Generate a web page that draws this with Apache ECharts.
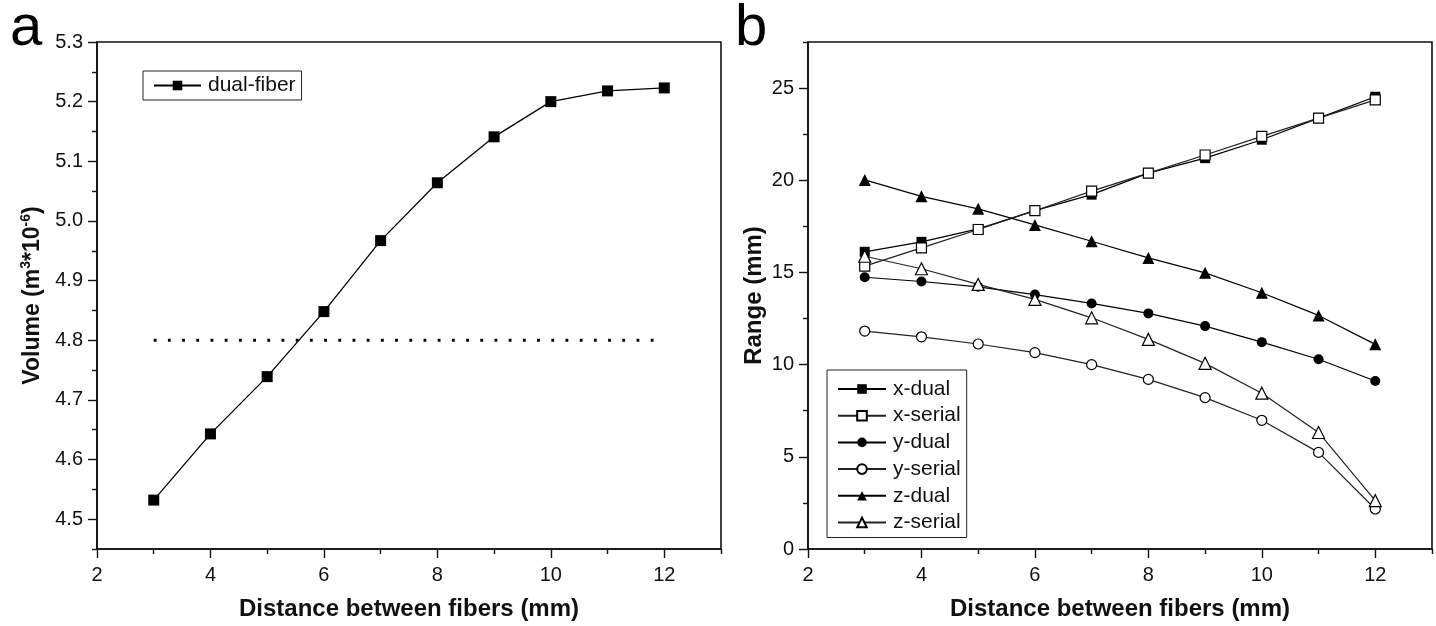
<!DOCTYPE html>
<html>
<head>
<meta charset="utf-8">
<script src="https://cdn.jsdelivr.net/npm/echarts@6/dist/echarts.min.js"></script>
<style>
html,body{margin:0;padding:0;background:#fff;}
#chart{width:1436px;height:626px;}
</style>
</head>
<body>
<div id="chart"></div>
<script>
// ---------- data ----------
var distances = [3, 4, 5, 6, 7, 8, 9, 10, 11, 12];

// panel a
var volumeDual = [4.532, 4.643, 4.739, 4.848, 4.967, 5.064, 5.141, 5.200, 5.218, 5.223];
var volumeThreshold = 4.8;
var thresholdFrom = 3, thresholdTo = 12;

// panel b
var xDual   = [16.12, 16.66, 17.36, 18.35, 19.22, 20.39, 21.20, 22.20, 23.37, 24.53];
var xSerial = [15.34, 16.33, 17.33, 18.35, 19.41, 20.39, 21.37, 22.38, 23.37, 24.36];
var yDual   = [14.74, 14.51, 14.22, 13.80, 13.32, 12.78, 12.09, 11.22, 10.29, 9.11];
var ySerial = [11.82, 11.51, 11.12, 10.65, 10.00, 9.20, 8.21, 6.98, 5.24, 2.17];
var zDual   = [20.02, 19.13, 18.45, 17.58, 16.69, 15.79, 14.98, 13.90, 12.67, 11.10];
var zSerial = [15.88, 15.20, 14.35, 13.54, 12.54, 11.37, 10.07, 8.45, 6.32, 2.62];

// tick labels / tick positions
var xMajorTicks = [2, 4, 6, 8, 10, 12];
var xMinorTicks = [3, 5, 7, 9, 11, 13];
var volMajorTicks = [4.5, 4.6, 4.7, 4.8, 4.9, 5.0, 5.1, 5.2, 5.3];
var volMinorTicks = [4.45, 4.55, 4.65, 4.75, 4.85, 4.95, 5.05, 5.15, 5.25];
var rangeMajorTicks = [0, 5, 10, 15, 20, 25];
var rangeMinorTicks = [2.5, 7.5, 12.5, 17.5, 22.5, 27.5];

var xTitle = 'Distance between fibers (mm)';
var rangeTitle = 'Range (mm)';

// ---------- helpers ----------
var FONT = "'Liberation Sans', Arial, Helvetica, sans-serif";
var INK = '#111';
function pairs(xs, ys) { return xs.map(function (x, i) { return [x, ys[i]]; }); }

function majorAxis(grid, min, max, ticks, fmt, margin, extra) {
  var a = {
    type: 'value', gridIndex: grid, min: min, max: max,
    axisLine: { show: true, onZero: false, lineStyle: { color: INK, width: 1.6 } },
    axisTick: { show: true, inside: false, length: 9, customValues: ticks, lineStyle: { color: INK, width: 1.4 } },
    axisLabel: { show: true, customValues: ticks, formatter: fmt, color: INK, fontFamily: FONT, fontSize: 20, margin: margin },
    splitLine: { show: false }
  };
  for (var k in extra) a[k] = extra[k];
  return a;
}
function minorAxis(grid, min, max, ticks, pos) {
  return {
    type: 'value', gridIndex: grid, min: min, max: max, position: pos, offset: 0,
    axisLine: { show: false, onZero: false },
    axisTick: { show: true, inside: false, length: 5, customValues: ticks, lineStyle: { color: INK, width: 1.4 } },
    axisLabel: { show: false },
    splitLine: { show: false }
  };
}

var xNameStyle = { fontFamily: FONT, fontSize: 24, fontWeight: 'bold', color: INK };

var option = {
  backgroundColor: '#fff',
  animation: false,
  grid: [
    { left: 97, top: 42, width: 624, height: 508, show: true, borderColor: INK, borderWidth: 1.6, backgroundColor: 'transparent' },
    { left: 808, top: 42, width: 624, height: 508, show: true, borderColor: INK, borderWidth: 1.6, backgroundColor: 'transparent' }
  ],
  xAxis: [
    majorAxis(0, 2, 13, xMajorTicks, function (v) { return String(v); }, 16,
      { position: 'bottom', name: xTitle, nameLocation: 'middle', nameGap: 48, nameTextStyle: xNameStyle }),
    minorAxis(0, 2, 13, xMinorTicks, 'bottom'),
    majorAxis(1, 2, 13, xMajorTicks, function (v) { return String(v); }, 16,
      { position: 'bottom', name: xTitle, nameLocation: 'middle', nameGap: 48, nameTextStyle: xNameStyle }),
    minorAxis(1, 2, 13, xMinorTicks, 'bottom')
  ],
  yAxis: [
    majorAxis(0, 4.45, 5.3, volMajorTicks, function (v) { return v.toFixed(1); }, 14,
      { position: 'left', name: '{t|Volume (m}{s|3}{t|*10}{s|-6}{t|)}', nameLocation: 'middle', nameGap: 50,
        nameTextStyle: {
          rich: {
            t: { fontFamily: FONT, fontSize: 23, fontWeight: 'bold', color: INK, lineHeight: 28 },
            s: { fontFamily: FONT, fontSize: 14, fontWeight: 'bold', color: INK, lineHeight: 14, verticalAlign: 'top' }
          }
        } }),
    minorAxis(0, 4.45, 5.3, volMinorTicks, 'left'),
    majorAxis(1, 0, 27.5, rangeMajorTicks, function (v) { return String(v); }, 14,
      { position: 'left', name: rangeTitle, nameLocation: 'middle', nameGap: 42, nameTextStyle: xNameStyle }),
    minorAxis(1, 0, 27.5, rangeMinorTicks, 'left')
  ],
  legend: [
    {
      data: ['dual-fiber'], left: 143, top: 71, orient: 'vertical',
      padding: [4, 6, 4, 10], itemWidth: 47, itemHeight: 12, itemGap: 0,
      borderColor: '#222', borderWidth: 1, backgroundColor: '#fff',
      textStyle: { fontFamily: FONT, fontSize: 21, color: INK, padding: [0, 0, 0, 2] },
      selectedMode: false
    },
    {
      data: ['x-dual', 'x-serial', 'y-dual', 'y-serial', 'z-dual', 'z-serial'],
      left: 827, top: 370, orient: 'vertical',
      padding: [8, 6, 4, 10], itemWidth: 48, itemHeight: 12, itemGap: 4.7,
      borderColor: '#222', borderWidth: 1, backgroundColor: '#fff',
      textStyle: { fontFamily: FONT, fontSize: 21, color: INK, lineHeight: 22, padding: [0, 0, 0, 2] },
      selectedMode: false
    }
  ],
  graphic: [
    { type: 'text', left: 10, top: 0, style: { text: 'a', font: "58px 'Liberation Sans', Arial, sans-serif", fill: '#000' } },
    { type: 'text', left: 735, top: 0, style: { text: 'b', font: "58px 'Liberation Sans', Arial, sans-serif", fill: '#000' } }
  ],
  series: [
    {
      name: 'threshold', type: 'line', xAxisIndex: 0, yAxisIndex: 0, symbol: 'none', silent: true,
      data: [[thresholdFrom, volumeThreshold], [thresholdTo, volumeThreshold]],
      lineStyle: { color: '#000', width: 2.8, type: [2.8, 11.4] }, z: 1
    },
    {
      name: 'dual-fiber', type: 'line', xAxisIndex: 0, yAxisIndex: 0,
      data: pairs(distances, volumeDual), symbol: 'rect', symbolSize: 11,
      lineStyle: { color: '#000', width: 1.3 }, itemStyle: { color: '#000' }
    },
    {
      name: 'x-dual', type: 'line', xAxisIndex: 2, yAxisIndex: 2,
      data: pairs(distances, xDual), symbol: 'rect', symbolSize: 10,
      lineStyle: { color: '#000', width: 1.2 }, itemStyle: { color: '#000' }
    },
    {
      name: 'x-serial', type: 'line', xAxisIndex: 2, yAxisIndex: 2,
      data: pairs(distances, xSerial), symbol: 'rect', symbolSize: 10,
      lineStyle: { color: '#222', width: 1.2 }, itemStyle: { color: '#fff', borderColor: '#000', borderWidth: 1.2 }
    },
    {
      name: 'y-dual', type: 'line', xAxisIndex: 2, yAxisIndex: 2,
      data: pairs(distances, yDual), symbol: 'circle', symbolSize: 10,
      lineStyle: { color: '#000', width: 1.2 }, itemStyle: { color: '#000' }
    },
    {
      name: 'y-serial', type: 'line', xAxisIndex: 2, yAxisIndex: 2,
      data: pairs(distances, ySerial), symbol: 'circle', symbolSize: 10,
      lineStyle: { color: '#222', width: 1.2 }, itemStyle: { color: '#fff', borderColor: '#000', borderWidth: 1.2 }
    },
    {
      name: 'z-dual', type: 'line', xAxisIndex: 2, yAxisIndex: 2,
      data: pairs(distances, zDual), symbol: 'triangle', symbolSize: 12,
      lineStyle: { color: '#000', width: 1.2 }, itemStyle: { color: '#000' }
    },
    {
      name: 'z-serial', type: 'line', xAxisIndex: 2, yAxisIndex: 2,
      data: pairs(distances, zSerial), symbol: 'triangle', symbolSize: 12,
      lineStyle: { color: '#222', width: 1.2 }, itemStyle: { color: '#fff', borderColor: '#000', borderWidth: 1.2 }
    }
  ]
};

var chart = echarts.init(document.getElementById('chart'), null, { renderer: 'canvas' });
chart.setOption(option);
</script>
</body>
</html>
